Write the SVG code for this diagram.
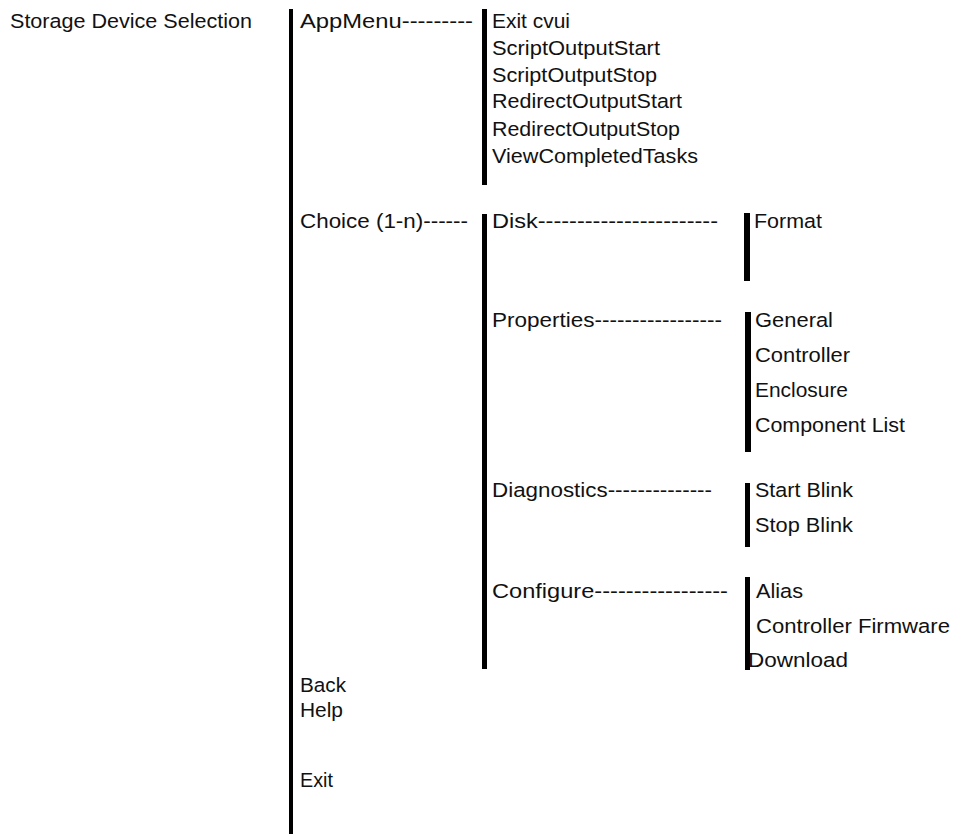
<svg xmlns="http://www.w3.org/2000/svg" width="954" height="834" viewBox="0 0 954 834">
<style>
text{font-family:"Liberation Sans",Arial,sans-serif;font-size:20.5px;fill:#111;}
.bar{fill:#000;}
</style>
<rect width="954" height="834" fill="#fff"/>
<g id="connectors">
<rect class="bar" x="289" y="9" width="4" height="825"/>
<rect class="bar" x="482" y="9" width="5" height="176"/>
<rect class="bar" x="482" y="214" width="5" height="455"/>
<rect class="bar" x="744" y="213" width="6" height="68"/>
<rect class="bar" x="745" y="312" width="6" height="140"/>
<rect class="bar" x="745" y="483" width="5" height="64"/>
<rect class="bar" x="745" y="577" width="5" height="93"/>
</g>
<g id="root"><text x="10" y="28" textLength="242" lengthAdjust="spacingAndGlyphs">Storage Device Selection</text></g>
<g id="appmenu"><text x="300" y="28" textLength="173" lengthAdjust="spacingAndGlyphs">AppMenu---------</text></g>
<g id="appmenu-items">
<text x="492" y="28" textLength="78" lengthAdjust="spacingAndGlyphs">Exit cvui</text>
<text x="492" y="55" textLength="168" lengthAdjust="spacingAndGlyphs">ScriptOutputStart</text>
<text x="492" y="82" textLength="165" lengthAdjust="spacingAndGlyphs">ScriptOutputStop</text>
<text x="492" y="108" textLength="190" lengthAdjust="spacingAndGlyphs">RedirectOutputStart</text>
<text x="492" y="136" textLength="188" lengthAdjust="spacingAndGlyphs">RedirectOutputStop</text>
<text x="492" y="163" textLength="206" lengthAdjust="spacingAndGlyphs">ViewCompletedTasks</text>
</g>
<g id="choice"><text x="300" y="228" textLength="168" lengthAdjust="spacingAndGlyphs">Choice (1-n)------</text></g>
<g id="disk"><text x="492" y="228" textLength="226" lengthAdjust="spacingAndGlyphs">Disk-----------------------</text></g>
<g id="disk-items"><text x="754" y="228" textLength="68" lengthAdjust="spacingAndGlyphs">Format</text></g>
<g id="properties"><text x="492" y="327" textLength="230" lengthAdjust="spacingAndGlyphs">Properties-----------------</text></g>
<g id="properties-items">
<text x="755" y="327" textLength="78" lengthAdjust="spacingAndGlyphs">General</text>
<text x="755" y="362" textLength="95" lengthAdjust="spacingAndGlyphs">Controller</text>
<text x="755" y="397" textLength="93" lengthAdjust="spacingAndGlyphs">Enclosure</text>
<text x="755" y="432" textLength="150" lengthAdjust="spacingAndGlyphs">Component List</text>
</g>
<g id="diagnostics"><text x="492" y="497" textLength="220" lengthAdjust="spacingAndGlyphs">Diagnostics--------------</text></g>
<g id="diagnostics-items">
<text x="755" y="497" textLength="98" lengthAdjust="spacingAndGlyphs">Start Blink</text>
<text x="755" y="532" textLength="98" lengthAdjust="spacingAndGlyphs">Stop Blink</text>
</g>
<g id="configure"><text x="492" y="598" textLength="236" lengthAdjust="spacingAndGlyphs">Configure-----------------</text></g>
<g id="configure-items">
<text x="756" y="598" textLength="47" lengthAdjust="spacingAndGlyphs">Alias</text>
<text x="756" y="633" textLength="194" lengthAdjust="spacingAndGlyphs">Controller Firmware</text>
<text x="748" y="667" textLength="100" lengthAdjust="spacingAndGlyphs">Download</text>
</g>
<g id="back"><text x="300" y="692" textLength="46" lengthAdjust="spacingAndGlyphs">Back</text></g>
<g id="help"><text x="300" y="717" textLength="43" lengthAdjust="spacingAndGlyphs">Help</text></g>
<g id="exit"><text x="300" y="787" textLength="33" lengthAdjust="spacingAndGlyphs">Exit</text></g>
</svg>
